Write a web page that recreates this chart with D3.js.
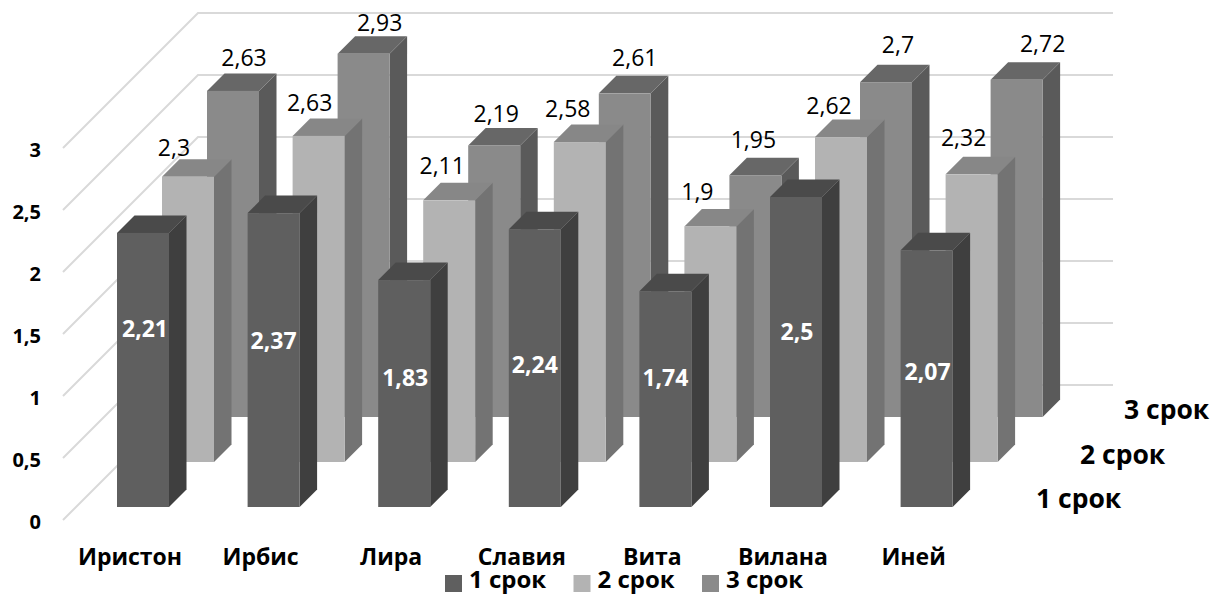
<!DOCTYPE html>
<html lang="ru">
<head>
<meta charset="utf-8">
<title>Сорта по срокам</title>
<script src="https://cdn.jsdelivr.net/npm/d3@7/dist/d3.min.js"></script>
<style>
  html, body { margin: 0; padding: 0; background: #fff; overflow: hidden; }
  svg { display: block; }
  text { font-family: "Open Sans", sans-serif; fill: #000; }
</style>
</head>
<body>
<svg id="chart" width="1212" height="595"></svg>
<script>
// Values
const categories = ["Иристон", "Ирбис", "Лира", "Славия", "Вита", "Вилана", "Иней"];
const seriesNames = ["1 срок", "2 срок", "3 срок"];
const term1 = [2.21, 2.37, 1.83, 2.24, 1.74, 2.5, 2.07];
const term2 = [2.3, 2.63, 2.11, 2.58, 1.9, 2.62, 2.32];
const term3 = [2.63, 2.93, 2.19, 2.61, 1.95, 2.7, 2.72];
const yTicks = [0, 0.5, 1, 1.5, 2, 2.5, 3];

// Face colours per series
const faceColors = ["#5f5f5f", "#b3b3b3", "#8a8a8a"];
const sideColors = ["#3f3f3f", "#737373", "#5a5a5a"];
const topColors = ["#4a4a4a", "#878787", "#676767"];

// Hand-placed label nudges, measured from each bar's top-left front corner
const labelNudgeX = [
  [28, 26, 27, 26, 26, 27, 27],
  [12, 17, 19, 14, 13, 14, 18],
  [37, 42, 28, 36, 24, 38, 52]
];
const labelNudgeY = [
  [96, 128, 98, 135, 86, 135, 121],
  [-29, -33, -35, -33, -35, -31, -37],
  [-33, -31, -32, -36, -35, -37, -36]
];

const values = [term1, term2, term3];
const decimalComma = d3.formatLocale({ decimal: ",", thousands: " ", grouping: [3], currency: ["", ""] });
const fmt = d => decimalComma.format("~g")(d);

const svg = d3.select("#chart");

// Oblique projection: each step back in depth moves up and right by the same amount
const barWidth = 52;
const barDepth = 17.5;
const wallDepth = 135;
const frontFloorY = 507;
const unit = 124;

const x = d3.scalePoint().domain(categories).range([117, 900.6]);
const depth = d3.scalePoint().domain(seriesNames).range([0, 90]);
const height = d3.scaleLinear().domain([0, 3]).range([0, 3 * unit]);

// Wall grid and the floor-side run of every gridline
const wallFrontX = 63, wallFrontY = 520, wallRight = 1113;
const wallY = d3.scaleLinear().domain([0, 3]).range([wallFrontY, wallFrontY - 3 * unit]);

const grid = svg.append("g").attr("fill", "none").attr("stroke", "#d9d9d9").attr("stroke-width", 2);
grid.selectAll("path").data(yTicks).join("path")
  .attr("d", d => {
    const p = d3.path();
    p.moveTo(wallFrontX, wallY(d));
    p.lineTo(wallFrontX + wallDepth, wallY(d) - wallDepth);
    p.lineTo(wallRight, wallY(d) - wallDepth);
    return p.toString();
  });

// Value axis: labels only
const axis = d3.axisLeft(wallY).tickValues(yTicks).tickFormat(fmt).tickSize(0).tickPadding(0);
svg.append("g")
  .attr("transform", "translate(41,1)")
  .call(axis)
  .call(g => g.select(".domain").remove())
  .selectAll("text")
  .style("font-size", "20px").style("font-weight", 700)
  .attr("dy", "0.36em");

// Bars, back row first so nearer rows overlap them
const rows = seriesNames.map((name, s) => ({ name, s })).reverse();
rows.forEach(({ name, s }) => {
  const g = svg.append("g");
  const off = depth(name);
  const bars = categories.map((c, i) => {
    const left = x(c) + off;
    const base = frontFloorY - off;
    return { left, base, top: base - height(values[s][i]), i };
  });
  const poly = pts => pts.map(p => p.join(",")).join(" ");
  const cell = g.selectAll("g").data(bars).join("g");
  cell.append("polygon")
    .attr("fill", sideColors[s])
    .attr("points", b => poly([
      [b.left + barWidth, b.top], [b.left + barWidth + barDepth, b.top - barDepth],
      [b.left + barWidth + barDepth, b.base - barDepth], [b.left + barWidth, b.base]
    ]));
  cell.append("polygon")
    .attr("fill", topColors[s])
    .attr("points", b => poly([
      [b.left, b.top], [b.left + barDepth, b.top - barDepth],
      [b.left + barWidth + barDepth, b.top - barDepth], [b.left + barWidth, b.top]
    ]));
  cell.append("rect")
    .attr("fill", faceColors[s])
    .attr("x", b => b.left).attr("y", b => b.top)
    .attr("width", barWidth).attr("height", b => b.base - b.top);
});

// Value labels sit above all bars
seriesNames.forEach((name, s) => {
  const off = depth(name);
  svg.append("g").selectAll("text").data(categories).join("text")
    .attr("text-anchor", "middle").attr("dy", "0.36em")
    .style("font-size", "23px")
    .style("font-weight", s === 0 ? 700 : 400)
    .style("fill", s === 0 ? "#fff" : "#000")
    .attr("x", (c, i) => x(c) + off + labelNudgeX[s][i])
    .attr("y", (c, i) => frontFloorY - off - height(values[s][i]) + labelNudgeY[s][i])
    .text((c, i) => fmt(values[s][i]));
});

// Category names
svg.append("g").selectAll("text").data(categories).join("text")
  .attr("text-anchor", "middle")
  .attr("x", d => x(d) + 13).attr("y", 565)
  .style("font-size", "23px").style("font-weight", 700)
  .text(d => d);

// Depth axis names
const depthLabelX = d3.scalePoint().domain(seriesNames).range([1036, 1124]);
const depthLabelY = d3.scalePoint().domain(seriesNames).range([508, 419]);
svg.append("g").selectAll("text").data(seriesNames).join("text")
  .attr("x", d => depthLabelX(d)).attr("y", d => depthLabelY(d))
  .style("font-size", "26.5px").style("font-weight", 700)
  .text(d => d);

// Legend
const legendX = d3.scalePoint().domain(seriesNames).range([445, 702]);
const legend = svg.append("g").selectAll("g").data(seriesNames).join("g")
  .attr("transform", d => `translate(${legendX(d)},575)`);
legend.append("rect").attr("width", 17).attr("height", 17)
  .attr("fill", (d, i) => faceColors[i]);
legend.append("text").attr("x", 24).attr("y", 13)
  .style("font-size", "24px").style("font-weight", 700)
  .text(d => d);
</script>
</body>
</html>
